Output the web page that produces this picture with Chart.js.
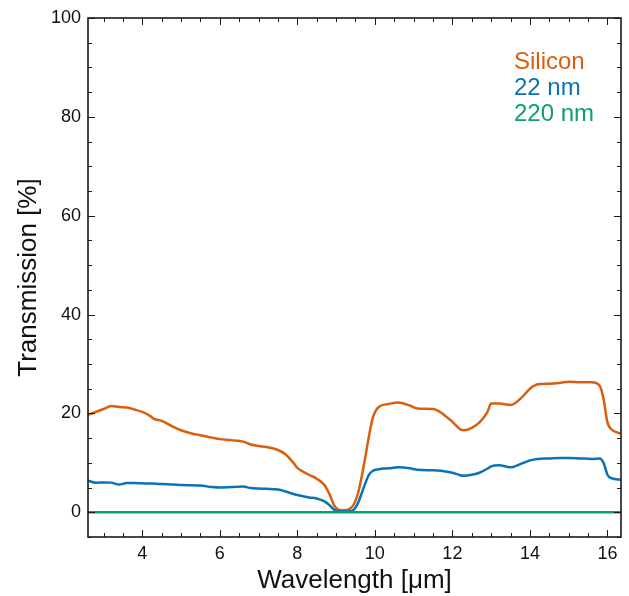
<!DOCTYPE html>
<html>
<head>
<meta charset="utf-8">
<script src="https://cdn.jsdelivr.net/npm/chart.js@4"></script>
<style>
  html, body { margin: 0; padding: 0; background: #fff; }
  #wrap { width: 629px; height: 596px; }
</style>
</head>
<body>
<div id="wrap"><canvas id="chart"></canvas></div>
<script>
const wavelength = [2.6, 2.8, 3.0, 3.2, 3.4, 3.6, 3.8, 4.0, 4.2, 4.3, 4.5, 4.8, 5.0, 5.3, 5.5, 5.8, 6.0, 6.3, 6.6, 6.8,
  7.0, 7.2, 7.5, 7.7, 7.9, 8.0, 8.3, 8.5, 8.7, 8.85, 8.95, 9.05, 9.2, 9.35, 9.45, 9.55, 9.65, 9.75, 9.85, 9.95,
  10.1, 10.35, 10.6, 10.9, 11.1, 11.5, 11.7, 12.0, 12.2, 12.3, 12.5, 12.7, 12.9, 13.0, 13.2, 13.5, 13.8, 14.0, 14.2, 14.5,
  14.8, 15.0, 15.3, 15.6, 15.8, 15.9, 16.0, 16.1, 16.35];
const silicon = [19.7, 20.3, 20.9, 21.5, 21.3, 21.2, 20.8, 20.3, 19.5, 18.9, 18.5, 17.3, 16.6, 15.9, 15.6, 15.1, 14.8, 14.6, 14.3, 13.7,
  13.4, 13.2, 12.6, 11.7, 10.0, 9.0, 7.6, 6.8, 5.5, 3.3, 1.4, 0.6, 0.4, 0.7, 1.5, 3.4, 6.8, 11.0, 15.5, 19.2,
  21.3, 21.9, 22.2, 21.6, 21.0, 20.9, 20.2, 18.3, 16.8, 16.6, 17.1, 18.2, 20.2, 22.0, 22.0, 21.7, 23.3, 25.0, 25.9, 26.0,
  26.2, 26.4, 26.3, 26.3, 25.6, 22.9, 18.2, 16.8, 15.9];
const film22 = [6.4, 6.0, 6.05, 6.0, 5.6, 5.9, 5.9, 5.85, 5.8, 5.8, 5.7, 5.6, 5.5, 5.45, 5.4, 5.1, 5.0, 5.1, 5.2, 4.9,
  4.8, 4.75, 4.6, 4.2, 3.7, 3.5, 3.0, 2.8, 2.2, 1.3, 0.5, 0.2, 0.15, 0.2, 0.5, 1.6, 3.6, 5.8, 7.6, 8.4,
  8.7, 8.9, 9.1, 8.9, 8.6, 8.5, 8.4, 8.0, 7.5, 7.4, 7.6, 8.0, 8.8, 9.3, 9.5, 9.1, 9.9, 10.5, 10.8, 10.9,
  11.0, 11.0, 10.9, 10.8, 10.9, 10.0, 7.6, 6.9, 6.6];
const film220 = [0, 0, 0, 0, 0, 0, 0, 0, 0, 0, 0, 0, 0, 0, 0, 0, 0, 0, 0, 0,
  0, 0, 0, 0, 0, 0, 0, 0, 0, 0, 0, 0, 0, 0, 0, 0, 0, 0, 0, 0,
  0, 0, 0, 0, 0, 0, 0, 0, 0, 0, 0, 0, 0, 0, 0, 0, 0, 0, 0, 0,
  0, 0, 0, 0, 0, 0, 0, 0, 0];
const seriesNames = ['Silicon', '22 nm', '220 nm'];
const seriesColors = ['#d95f0e', '#0b72b5', '#0a9e73'];

const FONT = "'Liberation Sans', Arial, sans-serif";
const toPoints = (vals) => vals.map((v, i) => ({ x: wavelength[i], y: v }));

// inward ticks on all four sides plus the box
const frameTicks = {
  id: 'frameTicks',
  afterDatasetsDraw(chart) {
    const { ctx, chartArea: a, scales: { x, y } } = chart;
    ctx.save();
    ctx.strokeStyle = '#1a1a1a';
    ctx.lineWidth = 1;
    x.ticks.forEach(t => {
      const v = t.value;
      if (Math.abs(v * 2 - Math.round(v * 2)) > 1e-6) return;
      const px = Math.round(x.getPixelForValue(v)) + 0.5;
      const len = Math.abs(v % 2) < 1e-6 ? 7 : 4;
      ctx.beginPath();
      ctx.moveTo(px, a.bottom); ctx.lineTo(px, a.bottom - len);
      ctx.moveTo(px, a.top); ctx.lineTo(px, a.top + len);
      ctx.stroke();
    });
    y.ticks.forEach(t => {
      const v = t.value;
      const py = Math.round(y.getPixelForValue(v)) + 0.5;
      const len = Math.abs(v % 20) < 1e-6 ? 7 : 4;
      ctx.beginPath();
      ctx.moveTo(a.left, py); ctx.lineTo(a.left + len, py);
      ctx.moveTo(a.right, py); ctx.lineTo(a.right - len, py);
      ctx.stroke();
    });
    ctx.lineWidth = 1.6;
    ctx.strokeRect(a.left, a.top, a.right - a.left, a.bottom - a.top);
    ctx.restore();
  }
};

const textLegend = {
  id: 'textLegend',
  afterDraw(chart) {
    const { ctx } = chart;
    ctx.save();
    ctx.font = `24px ${FONT}`;
    ctx.textAlign = 'left';
    ctx.textBaseline = 'alphabetic';
    chart.data.datasets.forEach((ds, i) => {
      ctx.fillStyle = ds.borderColor;
      ctx.fillText(ds.label, 514, 69 + i * 26);
    });
    ctx.restore();
  }
};

new Chart(document.getElementById('chart'), {
  type: 'line',
  data: {
    datasets: [
      { label: seriesNames[0], data: toPoints(silicon), borderColor: seriesColors[0], order: 2 },
      { label: seriesNames[1], data: toPoints(film22), borderColor: seriesColors[1], order: 1 },
      { label: seriesNames[2], data: toPoints(film220), borderColor: seriesColors[2], order: 0 }
    ]
  },
  options: {
    responsive: true,
    maintainAspectRatio: false,
    animation: false,
    layout: { padding: { top: 18, right: 8, left: 0, bottom: 0 } },
    elements: {
      point: { radius: 0 },
      line: { borderWidth: 2.5, cubicInterpolationMode: 'monotone' }
    },
    plugins: { legend: { display: false }, tooltip: { enabled: false } },
    scales: {
      x: {
        type: 'linear',
        min: 2.6,
        max: 16.35,
        grid: { display: false, drawTicks: false },
        border: { display: false },
        ticks: {
          stepSize: 0.5,
          includeBounds: false,
          maxTicksLimit: 100,
          autoSkip: false,
          maxRotation: 0,
          padding: 6,
          color: '#111',
          font: { family: FONT, size: 18 },
          callback: (v) => (Math.abs(v % 2) < 1e-6 ? String(v) : '')
        },
        title: {
          display: true,
          text: 'Wavelength [μm]',
          color: '#111',
          font: { family: FONT, size: 26 },
          padding: 0
        },
        afterFit: (s) => { s.height = 59; }
      },
      y: {
        min: -5,
        max: 100,
        grid: { display: false, drawTicks: false },
        border: { display: false },
        ticks: {
          stepSize: 5,
          maxTicksLimit: 100,
          autoSkip: false,
          padding: 7,
          color: '#111',
          font: { family: FONT, size: 18 },
          callback: (v) => (Math.abs(v % 20) < 1e-6 && v >= 0 ? String(v) : '')
        },
        title: {
          display: true,
          text: 'Transmission [%]',
          color: '#111',
          font: { family: FONT, size: 26 },
          padding: 13
        },
        afterFit: (s) => { s.width = 88; }
      }
    }
  },
  plugins: [frameTicks, textLegend]
});
</script>
</body>
</html>
